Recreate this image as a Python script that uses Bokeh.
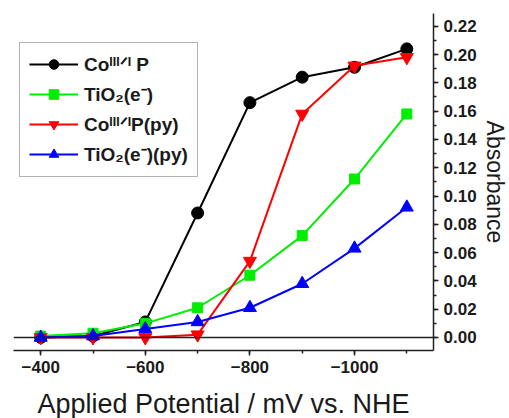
from bokeh.plotting import figure
from bokeh.models import (Range1d, SingleIntervalTicker, NumeralTickFormatter,
                          Span, Legend, LegendItem)
from bokeh.embed import file_html
from bokeh.resources import INLINE

potential = [-400, -500, -600, -700, -800, -900, -1000, -1100]
co_p = [0.000, 0.001, 0.011, 0.088, 0.166, 0.184, 0.191, 0.204]
tio2_e = [0.001, 0.003, 0.010, 0.021, 0.044, 0.072, 0.112, 0.158]
co_p_py = [0.000, 0.000, 0.000, 0.002, 0.054, 0.158, 0.192, 0.198]
tio2_e_py = [0.000, 0.001, 0.006, 0.011, 0.021, 0.038, 0.063, 0.092]

labels = ["Co\u1d35\u1d35\u1d35\u141f\u1d35 P", "TiO\u2082(e\u207b)",
          "Co\u1d35\u1d35\u1d35\u141f\u1d35P(py)", "TiO\u2082(e\u207b)(py)"]
colors = ["black", "#00ee00", "#ff0000", "#0000ff"]
markers = ["circle", "square", "inverted_triangle", "triangle"]
sizes = [12, 10, 13, 13]
series = [co_p, tio2_e, co_p_py, tio2_e_py]

FONT = "Liberation Sans"
TXT = "#1a1a1a"

p = figure(frame_width=420, frame_height=337, output_backend="svg", toolbar_location=None,
           x_range=Range1d(-348, -1151), y_range=Range1d(-0.0092, 0.229),
           y_axis_location="right", min_border_left=13, min_border_top=13,
           min_border_right=0, min_border_bottom=0)
p.outline_line_color = None
p.xgrid.visible = False
p.ygrid.visible = False
p.background_fill_color = "white"
p.border_fill_color = "white"

items = []
for vals, lab, col, mk, sz in zip(series, labels, colors, markers, sizes):
    r1 = p.line(potential, vals, line_color=col, line_width=2)
    r2 = p.scatter(potential, vals, marker=mk, size=sz, fill_color=col, line_color=col)
    items.append(LegendItem(label=lab, renderers=[r1, r2]))

p.add_layout(Span(location=0, dimension="width", line_color="#222222", line_width=1.5))

xa = p.xaxis[0]
xa.ticker = SingleIntervalTicker(interval=200, num_minor_ticks=2)
ya = p.yaxis[0]
ya.ticker = SingleIntervalTicker(interval=0.02, num_minor_ticks=2)
ya.formatter = NumeralTickFormatter(format="0.00")
for ax in (xa, ya):
    ax.axis_line_width = 1.5
    ax.axis_line_color = "#222222"
    ax.major_tick_line_width = 1.5
    ax.minor_tick_line_width = 1.5
    ax.major_tick_line_color = "#222222"
    ax.minor_tick_line_color = "#222222"
    ax.major_tick_in = 0
    ax.major_tick_out = 5
    ax.minor_tick_in = 0
    ax.minor_tick_out = 3
    ax.major_label_text_font = FONT
    ax.major_label_text_font_style = "bold"
    ax.major_label_text_font_size = "17px"
    ax.major_label_text_color = TXT
    ax.major_label_standoff = 5
    ax.axis_label_text_font = FONT
    ax.axis_label_text_font_style = "normal"
    ax.axis_label_text_color = TXT

ya.axis_label = "Absorbance"
ya.axis_label_text_font_size = "23px"
ya.axis_label_standoff = 2

xa.axis_label = "Applied Potential / mV vs. NHE"
xa.axis_label_text_font_size = "27px"
xa.axis_label_standoff = 13

legend = Legend(items=items, location=(6, 173), label_text_font=FONT,
                label_text_font_style="bold", label_text_font_size="19px",
                label_text_color=TXT, label_height=24, glyph_height=24,
                glyph_width=49, label_standoff=6, spacing=5, padding=9,
                border_line_color="#666666", border_line_width=1.5, margin=0)
p.add_layout(legend)

open("out.html", "w").write(file_html(p, INLINE))
